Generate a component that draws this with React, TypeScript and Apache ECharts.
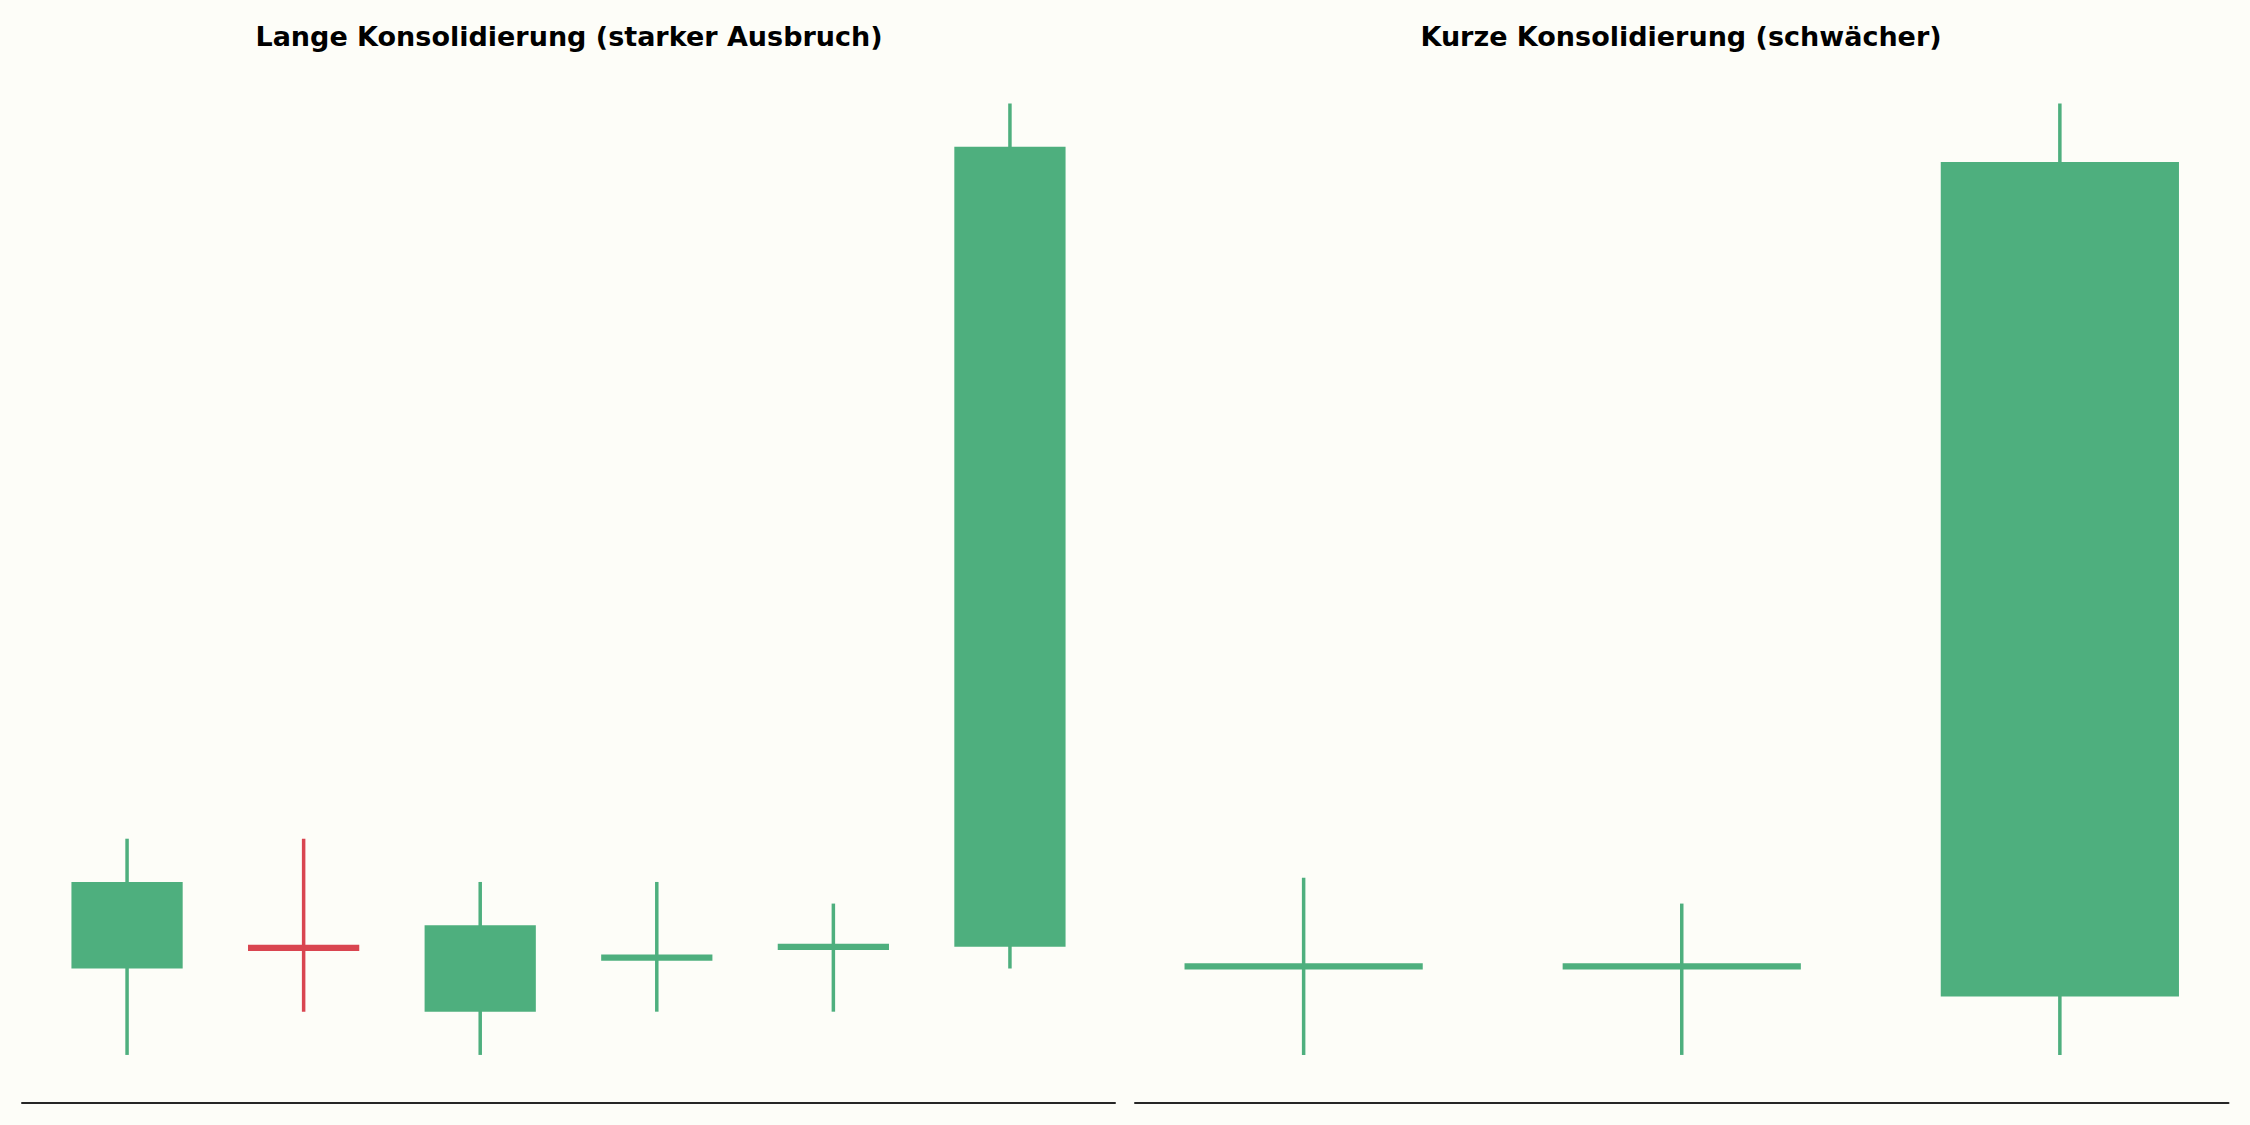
import React, { useRef, useEffect } from 'react'
import * as echarts from 'echarts'

// Lange Konsolidierung: 6 Kerzen
const longOpen = [100, 100.5, 99, 100.25, 100.5, 100.5]
const longClose = [102, 100.45, 101, 100.25, 100.5, 119]
const longLow = [98, 99, 98, 99, 99, 100]
const longHigh = [103, 103, 102, 102, 101.5, 120]

// Kurze Konsolidierung: 3 Kerzen
const shortOpen = [100.05, 100.05, 99.35]
const shortClose = [100.05, 100.05, 118.65]
const shortLow = [98, 98, 98]
const shortHigh = [102.1, 101.5, 120]

const titles = ['Lange Konsolidierung (starker Ausbruch)', 'Kurze Konsolidierung (schwächer)']

const UP = '#4eaf7e'
const DOWN = '#d94550'
const BG = '#fdfdf8'

const toRows = (o: number[], c: number[], l: number[], h: number[]) =>
  o.map((v, i) => [i, v, c[i], l[i], h[i]])

const renderCandle = (params: any, api: any) => {
  const x = api.value(0)
  const open = api.value(1)
  const close = api.value(2)
  const low = api.value(3)
  const high = api.value(4)
  const pOpen = api.coord([x, open])
  const pClose = api.coord([x, close])
  const pLow = api.coord([x, low])
  const pHigh = api.coord([x, high])
  const w = api.size([0.63, 0])[0]
  const color = close >= open ? UP : DOWN

  // doji: Körper mindestens ~6px dick, mittig
  let top = Math.min(pOpen[1], pClose[1])
  let h = Math.abs(pOpen[1] - pClose[1])
  if (h < 6.3) {
    const mid = (pOpen[1] + pClose[1]) / 2
    top = mid - 3.15
    h = 6.3
  }

  return {
    type: 'group',
    children: [
      {
        type: 'line',
        shape: { x1: pHigh[0], y1: pHigh[1], x2: pLow[0], y2: pLow[1] },
        style: { stroke: color, lineWidth: 3.5 },
      },
      {
        type: 'rect',
        shape: { x: pOpen[0] - w / 2, y: top, width: w, height: h },
        style: { fill: color },
      },
    ],
  }
}

const App: React.FC = () => {
  const chartRef = useRef<HTMLDivElement>(null)

  useEffect(() => {
    if (!chartRef.current) return
    document.body.style.margin = '0'
    const chart = echarts.init(chartRef.current, null, { renderer: 'svg' })

    const xAxisBase = {
      type: 'value',
      axisLine: { show: true, onZero: false, lineStyle: { color: '#262626', width: 2 } },
      axisTick: { show: false },
      axisLabel: { show: false },
      splitLine: { show: false },
    }
    const yAxisBase = {
      type: 'value',
      min: 96.9,
      max: 121.1,
      show: false,
    }

    const option = {
      animation: false,
      backgroundColor: BG,
      title: titles.map((t, i) => ({
        text: t,
        left: i === 0 ? 564 : 1676,
        top: 18,
        textAlign: 'center',
        textStyle: {
          fontFamily: 'DejaVu Sans',
          fontWeight: 'bold',
          fontSize: 27,
          color: '#000',
        },
      })),
      grid: [
        { left: 22, right: 1135, top: 56, bottom: 22.5 },
        { left: 1135, right: 21.5, top: 56, bottom: 22.5 },
      ],
      xAxis: [
        { ...xAxisBase, gridIndex: 0, min: -0.595, max: 5.595 },
        { ...xAxisBase, gridIndex: 1, min: -0.446, max: 2.446 },
      ],
      yAxis: [
        { ...yAxisBase, gridIndex: 0 },
        { ...yAxisBase, gridIndex: 1 },
      ],
      series: [
        {
          type: 'custom',
          xAxisIndex: 0,
          yAxisIndex: 0,
          renderItem: renderCandle,
          encode: { x: 0, y: [1, 2, 3, 4] },
          data: toRows(longOpen, longClose, longLow, longHigh),
        },
        {
          type: 'custom',
          xAxisIndex: 1,
          yAxisIndex: 1,
          renderItem: renderCandle,
          encode: { x: 0, y: [1, 2, 3, 4] },
          data: toRows(shortOpen, shortClose, shortLow, shortHigh),
        },
      ],
    }

    chart.setOption(option as any)

    return () => {
      chart.dispose()
    }
  }, [])

  return (
    <div
      ref={chartRef}
      style={{ position: 'absolute', left: 0, top: 0, width: '2250px', height: '1125px' }}
    />
  )
}

export default App
